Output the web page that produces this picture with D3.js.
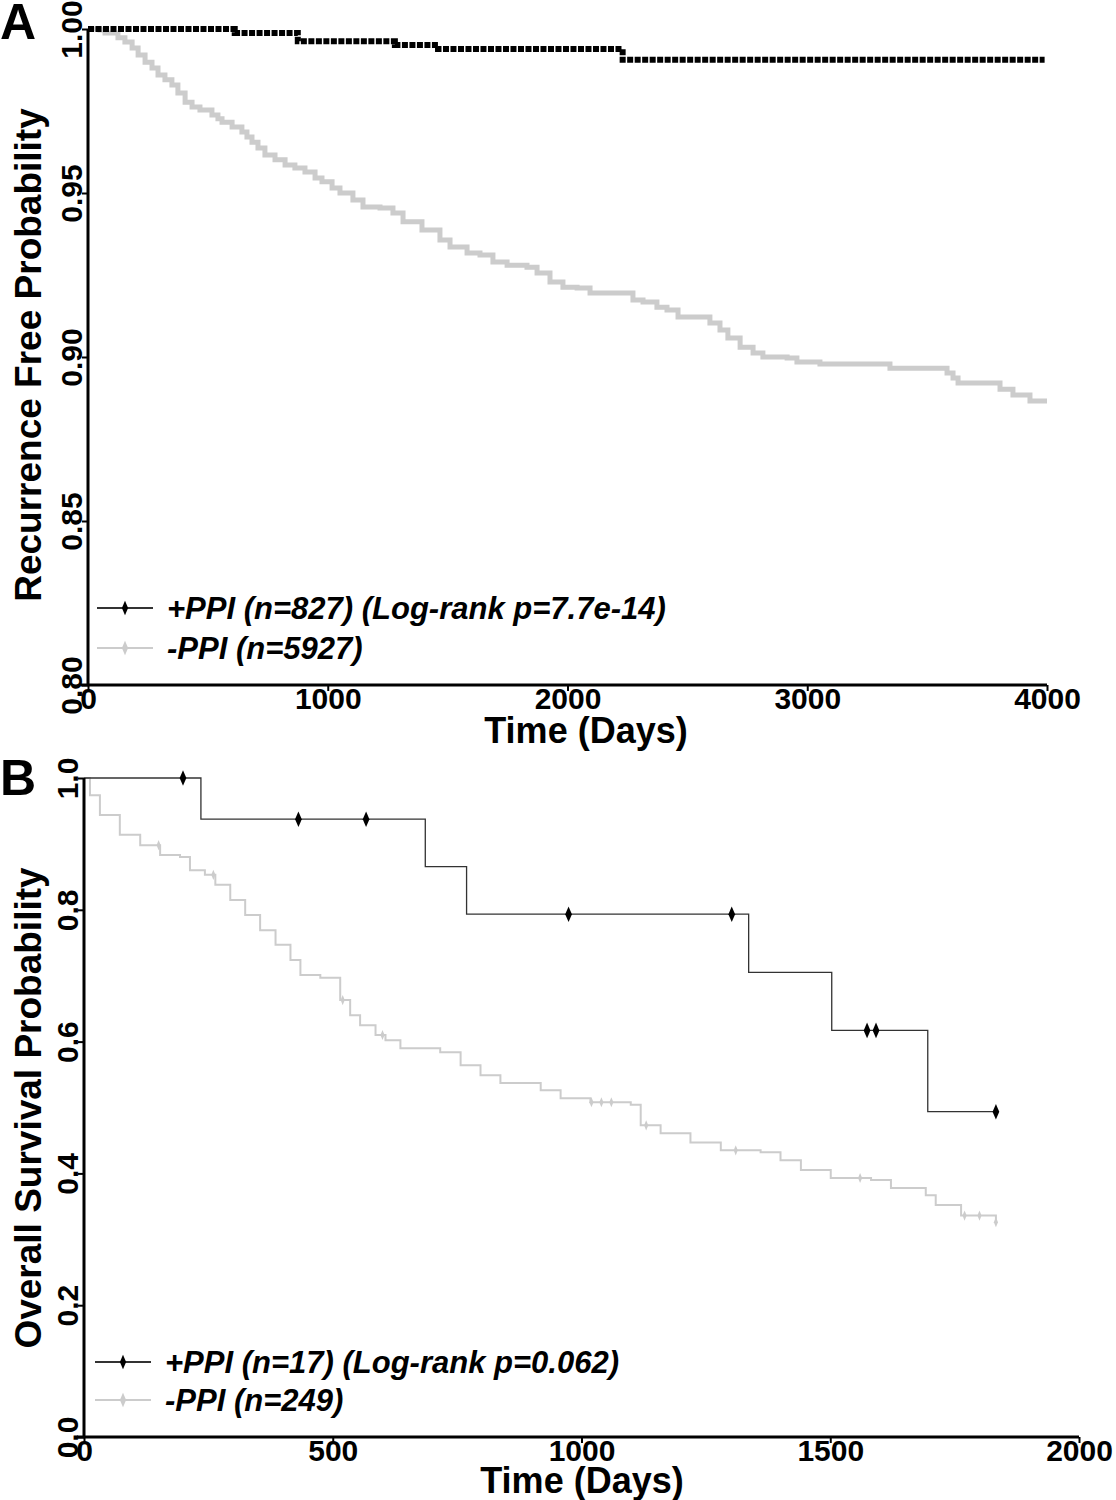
<!DOCTYPE html>
<html><head><meta charset="utf-8">
<script src="https://cdn.jsdelivr.net/npm/d3@7"></script>
<style>
html,body{margin:0;padding:0;background:#fff;}
svg{display:block;font-family:"Liberation Sans",Arial,Helvetica,sans-serif;}
</style></head>
<body>
<svg id="chart" width="1116" height="1500"></svg>
<script>
// ---------- Panel A data (Recurrence free) ----------
const aXTicks = [0, 1000, 2000, 3000, 4000];
const aYTicks = [0.80, 0.85, 0.90, 0.95, 1.00];
const aYTickLabels = ["0.80", "0.85", "0.90", "0.95", "1.00"];
const aPlusTime = [0, 612, 875, 1280, 1460, 2230, 3990];
const aPlusSurv = [1.0, 0.9988, 0.9963, 0.9951, 0.9939, 0.9906, 0.9906];
const aMinusTime = [0, 50, 71, 125, 154, 184, 209, 238, 267, 292, 321, 350, 375, 405, 434, 467, 517, 542, 559, 601,
  642, 663, 684, 709, 738, 780, 822, 863, 905, 947, 976, 1018,
  1051, 1105, 1147, 1218, 1272, 1314, 1393, 1468, 1510, 1581, 1635, 1689, 1748, 1831, 1873, 1927, 1981,
  2040, 2094, 2273, 2315, 2373, 2415, 2461, 2594, 2636, 2669, 2720, 2774, 2815, 2916, 2957, 3053,
  3345, 3583, 3608, 3629, 3804, 3858, 3929, 4000];
const aMinusSurv = [1.0, 0.9997, 0.9988, 0.9973, 0.9960, 0.9942, 0.9921, 0.9899, 0.9881, 0.9860, 0.9845, 0.9829, 0.9805, 0.9777, 0.9762, 0.9753, 0.9738, 0.9726, 0.9716, 0.9701,
  0.9686, 0.9671, 0.9655, 0.9637, 0.9616, 0.9601, 0.9585, 0.9576, 0.9564, 0.9546, 0.9534, 0.9515,
  0.9500, 0.9479, 0.9457, 0.9454, 0.9439, 0.9412, 0.9387, 0.9357, 0.9335, 0.9317, 0.9311, 0.9290, 0.9280, 0.9274, 0.9256, 0.9229, 0.9213,
  0.9210, 0.9195, 0.9174, 0.9168, 0.9152, 0.9143, 0.9122, 0.9104, 0.9082, 0.9058, 0.9030, 0.9012, 0.9000, 0.8997, 0.8985, 0.8979,
  0.8966, 0.8951, 0.8936, 0.8921, 0.8902, 0.8884, 0.8866, 0.8866];
const aLegend = ["+PPI (n=827) (Log-rank p=7.7e-14)", "-PPI (n=5927)"];

// ---------- Panel B data (Overall survival) ----------
const bXTicks = [0, 500, 1000, 1500, 2000];
const bYTicks = [0.0, 0.2, 0.4, 0.6, 0.8, 1.0];
const bYTickLabels = ["0.0", "0.2", "0.4", "0.6", "0.8", "1.0"];
const bPlusTime = [0, 235, 686, 769, 1336, 1503, 1696, 1833];
const bPlusSurv = [1.0, 0.9375, 0.8654, 0.7933, 0.7051, 0.6170, 0.4936, 0.4936];
const bPlusCensor = [199, 431, 567, 974, 1302, 1574, 1592, 1833];
const bMinusTime = [0, 12, 32, 72, 113, 153, 193, 213, 243, 264, 294, 324, 354, 385, 415, 435, 475, 515, 535, 555,
  586, 606, 636, 716, 757, 797, 837, 918, 958, 1018, 1099, 1119, 1159, 1219, 1280, 1360, 1400, 1441, 1501,
  1582, 1622, 1692, 1712, 1763, 1833];
const bMinusSurv = [1.0, 0.974, 0.944, 0.914, 0.898, 0.883, 0.880, 0.860, 0.853, 0.838, 0.815, 0.792, 0.769, 0.747, 0.724, 0.701, 0.697, 0.663, 0.640, 0.625,
  0.610, 0.602, 0.590, 0.584, 0.564, 0.549, 0.537, 0.526, 0.514, 0.508, 0.504, 0.473, 0.461, 0.447, 0.435, 0.432, 0.420, 0.405, 0.393,
  0.390, 0.378, 0.367, 0.352, 0.336, 0.326];
const bMinusCensor = [150, 260, 520, 600, 1020, 1040, 1060, 1130, 1310, 1560, 1770, 1800, 1833];
const bLegend = ["+PPI (n=17) (Log-rank p=0.062)", "-PPI (n=249)"];

const GREY = "#cccccc";
const svg = d3.select("#chart");

function stepValue(times, surv, t) {
  const i = d3.bisectRight(times, t) - 1;
  return surv[Math.max(0, i)];
}

function panel(cfg) {
  const g = svg.append("g");
  const x = d3.scaleLinear().domain(cfg.xDomain).range(cfg.xRange);
  const y = d3.scaleLinear().domain(cfg.yDomain).range(cfg.yRange);

  const line = (times, surv) => d3.line().curve(d3.curveStepAfter)
    .x(d => x(d[0])).y(d => y(d[1]))(times.map((t, i) => [t, surv[i]]));

  g.append("path").attr("d", line(cfg.minusTime, cfg.minusSurv))
    .attr("fill", "none").attr("stroke", GREY).attr("stroke-width", cfg.greyWidth);
  if (cfg.minusCensor) {
    g.selectAll(".gc").data(cfg.minusCensor).join("path")
      .attr("transform", t => `translate(${x(t)},${y(stepValue(cfg.minusTime, cfg.minusSurv, t))}) scale(0.7,1)`)
      .attr("d", d3.symbol(d3.symbolDiamond, 30)()).attr("fill", GREY);
  }
  g.append("path").attr("d", line(cfg.plusTime, cfg.plusSurv))
    .attr("fill", "none").attr("stroke", cfg.blackColor).attr("stroke-width", cfg.blackWidth)
    .attr("stroke-dasharray", cfg.blackDash || null);
  if (cfg.plusCensor) {
    g.selectAll(".bc").data(cfg.plusCensor).join("path")
      .attr("transform", t => `translate(${x(t)},${y(stepValue(cfg.plusTime, cfg.plusSurv, t))}) scale(0.75,1)`)
      .attr("d", d3.symbol(d3.symbolDiamond, 70)()).attr("fill", "#000");
  }

  const xAxis = d3.axisBottom(x).tickValues(cfg.xTicks).tickSize(6).tickSizeOuter(0).tickPadding(0)
    .tickFormat(d3.format("d"));
  const gx = g.append("g").attr("transform", `translate(0,${cfg.yRange[0]})`).call(xAxis);
  gx.select(".domain").attr("stroke", "#000").attr("stroke-width", 3)
    .attr("d", `M${cfg.xRange[0] - 7},0H${cfg.xRange[1]}`);
  gx.selectAll(".tick line").attr("stroke", "#000").attr("stroke-width", 2);
  gx.selectAll(".tick text").attr("font-size", 30).attr("font-weight", "bold").attr("fill", "#000")
    .attr("y", 3);

  const yAxis = d3.axisLeft(y).tickValues(cfg.yTicks).tickSize(6).tickSizeOuter(0)
    .tickFormat((d, i) => cfg.yTickLabels[i]);
  const gy = g.append("g").attr("transform", `translate(${cfg.xRange[0]},0)`).call(yAxis);
  gy.select(".domain").attr("stroke", "#000").attr("stroke-width", 3)
    .attr("d", `M0,${cfg.yRange[0]}V${cfg.yRange[1]}`);
  gy.selectAll(".tick line").attr("stroke", "#000").attr("stroke-width", 2);
  gy.selectAll(".tick text").attr("font-size", 30).attr("font-weight", "bold").attr("fill", "#000")
    .attr("transform", "rotate(-90)").attr("text-anchor", "middle")
    .attr("x", 0).attr("y", -6).attr("dy", 0);

  g.append("text").attr("x", cfg.xTitlePos[0]).attr("y", cfg.xTitlePos[1])
    .attr("text-anchor", "middle").attr("font-size", 36).attr("font-weight", "bold").text("Time (Days)");
  g.append("text").attr("transform", `translate(${cfg.yTitlePos[0]},${cfg.yTitlePos[1]}) rotate(-90)`)
    .attr("text-anchor", "middle").attr("font-size", 37).attr("font-weight", "bold").text(cfg.yTitle);
  g.append("text").attr("x", cfg.letterPos[0]).attr("y", cfg.letterPos[1])
    .attr("font-size", 50).attr("font-weight", "bold").text(cfg.letter);

  const lg = g.append("g");
  const rows = [{c: cfg.legendBlack, fill: "#000"}, {c: GREY, fill: GREY}];
  cfg.legend.forEach((txt, i) => {
    const yy = cfg.legendY[i];
    lg.append("line").attr("x1", cfg.legendX).attr("x2", cfg.legendX + 56).attr("y1", yy).attr("y2", yy)
      .attr("stroke", rows[i].c).attr("stroke-width", 2);
    lg.append("path").attr("transform", `translate(${cfg.legendX + 28},${yy}) scale(0.75,1)`)
      .attr("d", d3.symbol(d3.symbolDiamond, 60)()).attr("fill", rows[i].fill);
    lg.append("text").attr("x", cfg.legendX + 70).attr("y", yy + 11)
      .attr("font-size", 31).attr("font-weight", "bold").attr("font-style", "italic").text(txt);
  });
}

panel({
  xDomain: [0, 4000], xRange: [88, 1047], yDomain: [0.8, 1.0], yRange: [685, 29],
  xTicks: aXTicks, yTicks: aYTicks, yTickLabels: aYTickLabels,
  plusTime: aPlusTime, plusSurv: aPlusSurv, minusTime: aMinusTime, minusSurv: aMinusSurv,
  greyWidth: 5, blackWidth: 6, blackColor: "#000", blackDash: "6 1.5",
  xTitlePos: [586, 743], yTitlePos: [41, 355], yTitle: "Recurrence Free Probability",
  letter: "A", letterPos: [0, 39], legend: aLegend, legendX: 97, legendY: [608, 648], legendBlack: "#333"
});

panel({
  xDomain: [0, 2000], xRange: [84, 1079], yDomain: [0, 1], yRange: [1437, 778],
  xTicks: bXTicks, yTicks: bYTicks, yTickLabels: bYTickLabels,
  plusTime: bPlusTime, plusSurv: bPlusSurv, plusCensor: bPlusCensor,
  minusTime: bMinusTime, minusSurv: bMinusSurv, minusCensor: bMinusCensor,
  greyWidth: 2, blackWidth: 1.3, blackColor: "#333",
  xTitlePos: [582, 1493], yTitlePos: [41, 1108], yTitle: "Overall Survival Probability",
  letter: "B", letterPos: [0, 795], legend: bLegend, legendX: 95, legendY: [1362, 1400], legendBlack: "#333"
});
</script>
</body></html>
